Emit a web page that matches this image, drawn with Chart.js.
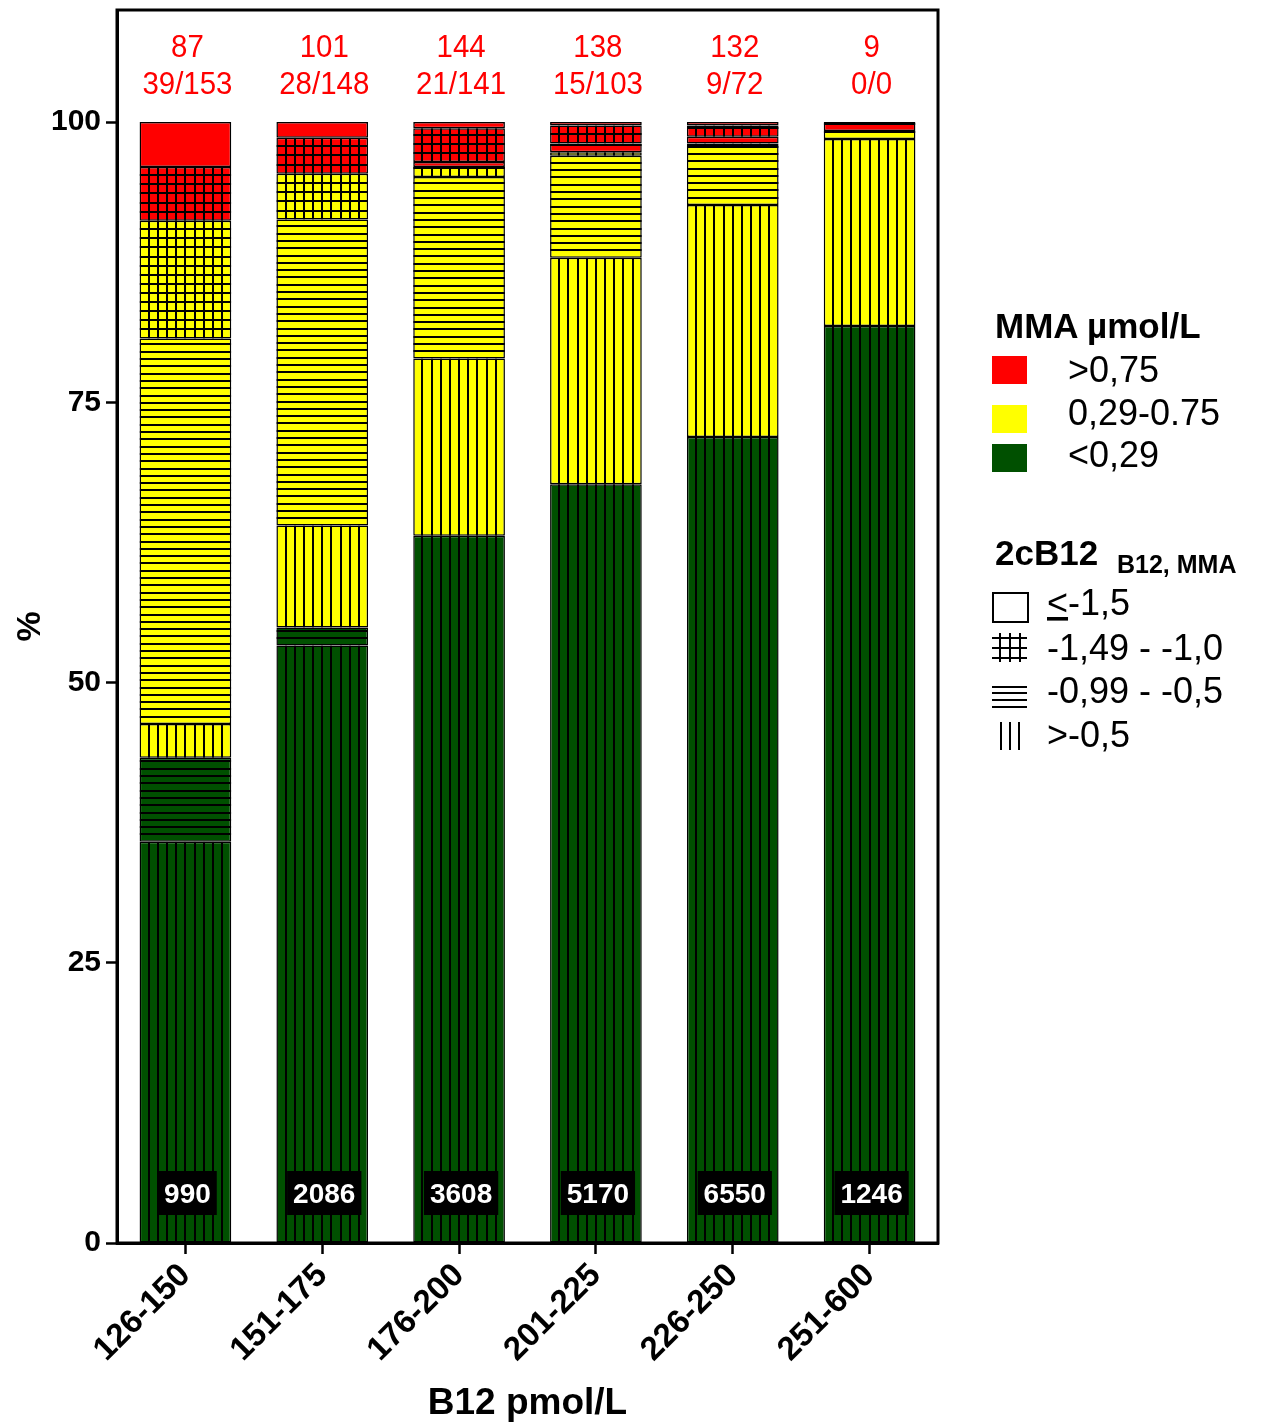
<!DOCTYPE html>
<html>
<head>
<meta charset="utf-8">
<title>MMA by B12</title>
<script src="https://cdn.jsdelivr.net/npm/chart.js@4/dist/chart.umd.min.js"></script>
<style>
  body { margin: 0; background: #fff; }
  #wrap { position: relative; width: 1264px; height: 1426px; }
  #legend { position: absolute; left: 0; top: 0; pointer-events: none; font-family: "Liberation Sans", Arial, sans-serif; }
</style>
</head>
<body>
<div id="wrap">
  <canvas id="chart" width="1264" height="1426"></canvas>
  <svg id="legend" width="1264" height="1426">
    <text x="995" y="338" font-size="35" font-weight="bold">MMA µmol/L</text>
    <rect x="992" y="356" width="35" height="28" fill="#ff0000"/>
    <text x="1068" y="382" font-size="36">&gt;0,75</text>
    <rect x="992" y="405" width="35" height="28" fill="#ffff00"/>
    <text x="1068" y="425" font-size="36">0,29-0.75</text>
    <rect x="992" y="444" width="35" height="28" fill="#005000"/>
    <text x="1068" y="467" font-size="36">&lt;0,29</text>

    <text x="995" y="565" font-size="35" font-weight="bold">2cB12</text>
    <text x="1117" y="573" font-size="25" font-weight="bold">B12, MMA</text>

    <rect x="993" y="593" width="35" height="29" fill="none" stroke="#000" stroke-width="2"/>
    <text x="1047" y="615" font-size="36"><tspan text-decoration="underline">&lt;</tspan>-1,5</text>

    <g stroke="#000" stroke-width="2">
      <line x1="1000" y1="633" x2="1000" y2="662"/>
      <line x1="1010" y1="633" x2="1010" y2="662"/>
      <line x1="1020" y1="633" x2="1020" y2="662"/>
      <line x1="992" y1="638" x2="1027" y2="638"/>
      <line x1="992" y1="648" x2="1027" y2="648"/>
      <line x1="992" y1="658" x2="1027" y2="658"/>

      <line x1="992" y1="687" x2="1027" y2="687"/>
      <line x1="992" y1="693" x2="1027" y2="693"/>
      <line x1="992" y1="700" x2="1027" y2="700"/>
      <line x1="992" y1="707" x2="1027" y2="707"/>

      <line x1="1001" y1="722" x2="1001" y2="750"/>
      <line x1="1010" y1="722" x2="1010" y2="750"/>
      <line x1="1019" y1="722" x2="1019" y2="750"/>
    </g>
    <text x="1047" y="660" font-size="36">-1,49 - -1,0</text>
    <text x="1047" y="703" font-size="36">-0,99 - -0,5</text>
    <text x="1047" y="747" font-size="36">&gt;-0,5</text>
  </svg>
</div>
<script>
// Kategori B12 dan label
const categories = ["126-150", "151-175", "176-200", "201-225", "226-250", "251-600"];
const totalN = ["990", "2086", "3608", "5170", "6550", "1246"];
const topCount = ["87", "101", "144", "138", "132", "9"];
const topRatio = ["39/153", "28/148", "21/141", "15/103", "9/72", "0/0"];
const yTicks = [0, 25, 50, 75, 100];

// Persentase per segmen (dari bawah ke atas)
const greenVert   = [35.8, 53.3, 63.1, 67.7, 71.9, 81.8];
const greenHoriz  = [7.5, 1.6, 0, 0, 0, 0];
const greenGrid   = [0, 0, 0, 0, 0, 0];
const greenPlain  = [0, 0, 0, 0, 0, 0];
const yellowVert  = [3.0, 9.1, 15.8, 20.2, 20.7, 16.7];
const yellowHoriz = [34.4, 27.3, 16.2, 9.1, 5.35, 0.7];
const yellowGrid  = [10.5, 4.1, 0.9, 0.3, 0.15, 0];
const yellowPlain = [0, 0, 0, 0, 0, 0];
const redVert     = [0, 0, 0, 0, 0, 0];
const redHoriz    = [0, 0, 0.45, 0.8, 0.6, 0.8];
const redGrid     = [4.8, 3.2, 3.0, 1.6, 1.0, 0];
const redPlain    = [4.0, 1.4, 0.55, 0.3, 0.3, 0];

const GREEN = "#005000", YELLOW = "#ffff00", RED = "#ff0000";
const FONT = "'Liberation Sans', Arial, sans-serif";

const series = [
  { label: "<0,29 >-0,5", data: greenVert, color: GREEN, hatch: "v" },
  { label: "<0,29 -0,99 - -0,5", data: greenHoriz, color: GREEN, hatch: "h" },
  { label: "<0,29 -1,49 - -1,0", data: greenGrid, color: GREEN, hatch: "g" },
  { label: "<0,29 <-1,5", data: greenPlain, color: GREEN, hatch: "" },
  { label: "0,29-0.75 >-0,5", data: yellowVert, color: YELLOW, hatch: "v" },
  { label: "0,29-0.75 -0,99 - -0,5", data: yellowHoriz, color: YELLOW, hatch: "h" },
  { label: "0,29-0.75 -1,49 - -1,0", data: yellowGrid, color: YELLOW, hatch: "g" },
  { label: "0,29-0.75 <-1,5", data: yellowPlain, color: YELLOW, hatch: "" },
  { label: ">0,75 >-0,5", data: redVert, color: RED, hatch: "v" },
  { label: ">0,75 -0,99 - -0,5", data: redHoriz, color: RED, hatch: "h" },
  { label: ">0,75 -1,49 - -1,0", data: redGrid, color: RED, hatch: "g" },
  { label: ">0,75 <-1,5", data: redPlain, color: RED, hatch: "" },
];

// Garis arsiran di dalam tiap batang
const hatchPlugin = {
  id: "hatch",
  afterDatasetsDraw(chart) {
    const ctx = chart.ctx;
    chart.data.datasets.forEach((ds, di) => {
      if (!ds.hatch) return;
      chart.getDatasetMeta(di).data.forEach((bar) => {
        const { x, y, base, width } = bar.getProps(["x", "y", "base", "width"], true);
        const left = x - width / 2;
        const top = Math.min(y, base), bottom = Math.max(y, base);
        if (bottom - top < 1) return;
        ctx.save();
        ctx.beginPath();
        ctx.rect(left, top, width, bottom - top);
        ctx.clip();
        ctx.strokeStyle = "#000";
        ctx.lineWidth = 2;
        ctx.beginPath();
        if (ds.hatch === "v" || ds.hatch === "g") {
          for (let k = 1; k < 10; k++) {
            const px = Math.round(left + (k * width) / 10);
            ctx.moveTo(px, top);
            ctx.lineTo(px, bottom);
          }
        }
        if (ds.hatch === "h" || ds.hatch === "g") {
          const step = ds.hatch === "h" ? 7.3 : 9.1;
          for (let py = bottom - step; py > top + 0.5; py -= step) {
            const ry = Math.round(py);
            ctx.moveTo(left, ry);
            ctx.lineTo(left + width, ry);
          }
        }
        ctx.stroke();
        ctx.restore();
      });
    });
  },
};

function drawNarrow(ctx, text, cx, y) {
  ctx.save();
  ctx.translate(cx, y);
  ctx.scale(0.92, 1);
  ctx.fillText(text, 0, 0);
  ctx.restore();
}

// Bingkai, label merah di atas, kotak N di bawah
const labelPlugin = {
  id: "labels",
  afterDraw(chart) {
    const { ctx, chartArea: a } = chart;
    const xs = chart.scales.x;
    ctx.save();
    ctx.strokeStyle = "#000";
    ctx.lineWidth = 3;
    ctx.strokeRect(a.left, a.top, a.right - a.left, a.bottom - a.top);
    ctx.textAlign = "center";
    ctx.textBaseline = "alphabetic";
    categories.forEach((c, i) => {
      const cx = xs.getPixelForValue(i);
      ctx.fillStyle = RED;
      ctx.font = "32px " + FONT;
      drawNarrow(ctx, topCount[i], cx + 2, a.top + 47);
      drawNarrow(ctx, topRatio[i], cx + 2, a.top + 84);

      ctx.font = "bold 28px " + FONT;
      const w = ctx.measureText(totalN[i]).width + 12;
      ctx.fillStyle = "#000";
      ctx.fillRect(cx - w / 2 + 2, a.bottom - 72, w, 44);
      ctx.fillStyle = "#fff";
      ctx.fillText(totalN[i], cx + 2, a.bottom - 40);
    });
    ctx.restore();
  },
};

const ctx = document.getElementById("chart").getContext("2d");
const chart = new Chart(ctx, {
  type: "bar",
  data: {
    labels: categories,
    datasets: series.map((s) => ({
      label: s.label,
      data: s.data,
      hatch: s.hatch,
      backgroundColor: s.color,
      borderColor: "#000",
      borderWidth: 1.5,
      borderSkipped: false,
      categoryPercentage: 1,
      barPercentage: 0.67,
    })),
  },
  options: {
    responsive: false,
    animation: false,
    devicePixelRatio: 1,
    layout: { padding: { left: 0, top: 10, right: 326, bottom: 0 } },
    plugins: { legend: { display: false }, tooltip: { enabled: false } },
    scales: {
      x: {
        stacked: true,
        grid: { display: true, drawOnChartArea: false, offset: false, tickLength: 11, tickWidth: 2.5, tickColor: "#000" },
        border: { display: true, color: "#000", width: 3 },
        ticks: { maxRotation: 45, minRotation: 45, padding: 2, color: "#000", font: { family: FONT, size: 33, weight: "bold" } },
        title: { display: true, text: "B12 pmol/L", color: "#000", font: { family: FONT, size: 37, weight: "bold" }, padding: { top: 0, bottom: 0 } },
        afterFit(s) { s.height = 183; s.paddingLeft = 0; s.paddingRight = 0; },
      },
      y: {
        stacked: true,
        min: 0,
        max: 110,
        afterBuildTicks(s) { s.ticks = yTicks.map((v) => ({ value: v })); },
        grid: { display: true, drawOnChartArea: false, tickLength: 11, tickWidth: 2.5, tickColor: "#000" },
        border: { display: true, color: "#000", width: 3 },
        ticks: { padding: 5, color: "#000", font: { family: FONT, size: 30, weight: "bold" } },
        title: { display: true, text: "%", color: "#000", font: { family: FONT, size: 34, weight: "bold" }, padding: { top: 10, bottom: 0 } },
        afterFit(s) { s.width = 117; s.paddingTop = 0; s.paddingBottom = 0; },
      },
    },
  },
  plugins: [hatchPlugin, labelPlugin],
});
</script>
</body>
</html>
